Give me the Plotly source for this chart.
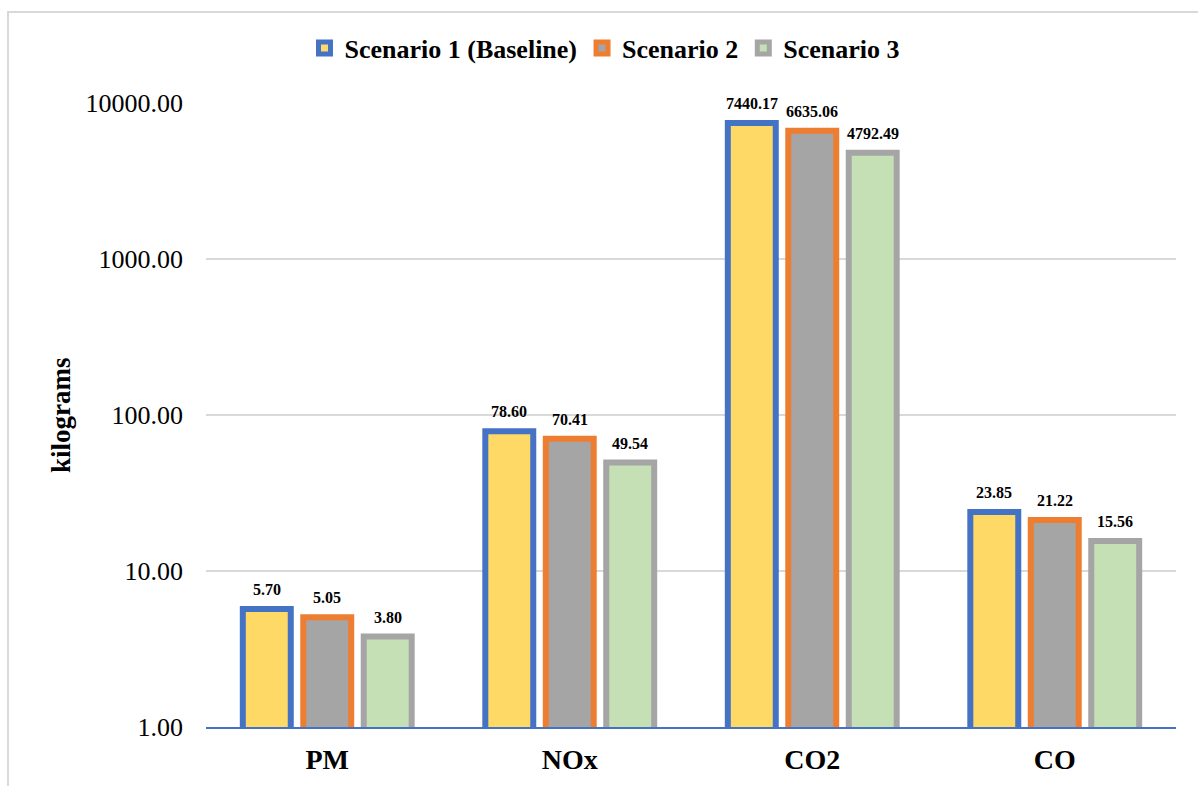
import math
import plotly.graph_objects as go

# Emissions per pollutant for each scenario (kilograms)
pollutants = ["PM", "NOx", "CO2", "CO"]
scenario_names = ["Scenario 1 (Baseline)", "Scenario 2", "Scenario 3"]
scenario_1 = [5.70, 78.60, 7440.17, 23.85]
scenario_2 = [5.05, 70.41, 6635.06, 21.22]
scenario_3 = [3.80, 49.54, 4792.49, 15.56]

y_tick_values = [1, 10, 100, 1000, 10000]
y_tick_labels = ["1.00", "10.00", "100.00", "1000.00", "10000.00"]

fill_colors = ["#FFD966", "#A5A5A5", "#C5E0B4"]
edge_colors = ["#4472C4", "#ED7D31", "#A5A5A5"]

SERIF = "Liberation Serif, Times New Roman, serif"
W, H = 1198, 786
M_L, M_R, M_T, M_B = 206, 22, 103, 59
PW, PH = W - M_L - M_R, H - M_T - M_B
BARGAP = 0.252
BARGROUPGAP = 0.207


def px_to_paper_x(px):
    return (px - M_L) / PW


def px_to_paper_y(py):
    return (H - M_B - py) / PH


series = [scenario_1, scenario_2, scenario_3]

fig = go.Figure()
for name, values, fc, ec in zip(scenario_names, series, fill_colors, edge_colors):
    fig.add_trace(go.Bar(
        name=name,
        x=pollutants,
        y=values,
        marker=dict(color=fc, line=dict(color=ec, width=6)),
        cliponaxis=False,
    ))

# Value labels above each bar, offset sideways to the bar's slot in its group
slot_px = PW / len(pollutants) * (1 - BARGAP) / len(series)
value_labels = []
for i, values in enumerate(series):
    for cat, v in zip(pollutants, values):
        value_labels.append(dict(
            x=cat, y=math.log10(v), xref="x", yref="y",
            text=f"{v:.2f}", showarrow=False,
            xanchor="center", yanchor="bottom",
            xshift=(i - (len(series) - 1) / 2) * slot_px, yshift=9,
            font=dict(family=SERIF, size=16, color="#000000", weight="bold"),
        ))

fig.update_layout(
    width=W, height=H,
    margin=dict(l=M_L, r=M_R, t=M_T, b=M_B),
    paper_bgcolor="white",
    plot_bgcolor="white",
    barmode="group",
    bargap=BARGAP,
    bargroupgap=BARGROUPGAP,
    font=dict(family=SERIF, color="#000000"),
    legend=dict(
        orientation="h",
        xref="container", x=0.505, xanchor="center",
        yref="container", y=1 - 48 / H, yanchor="middle",
        font=dict(family=SERIF, size=26, color="#000000", weight="bold"),
        itemwidth=30,
        traceorder="normal",
    ),
    xaxis=dict(
        showline=True, linecolor="#4472C4", linewidth=2,
        showgrid=False,
        tickfont=dict(family=SERIF, size=28, color="#000000", weight="bold"),
        ticks="", ticklabelstandoff=6,
    ),
    yaxis=dict(
        type="log", range=[0, 4],
        tickvals=y_tick_values, ticktext=y_tick_labels,
        showgrid=True, gridcolor="#D9D9D9", gridwidth=1.5,
        showline=False, zeroline=False,
        ticks="", ticklabelstandoff=22,
        tickfont=dict(family=SERIF, size=26, color="#000000"),
    ),
    shapes=[dict(
        type="rect", xref="paper", yref="paper", layer="below",
        x0=px_to_paper_x(8), x1=px_to_paper_x(W + 20),
        y0=px_to_paper_y(H + 20), y1=px_to_paper_y(12),
        line=dict(color="#D9D9D9", width=2), fillcolor="rgba(0,0,0,0)",
    )],
    annotations=[dict(
        text="kilograms", textangle=-90, showarrow=False,
        xref="paper", yref="paper",
        x=px_to_paper_x(61), y=0.5, xanchor="center", yanchor="middle",
        font=dict(family=SERIF, size=27, color="#000000", weight="bold"),
    )] + value_labels,
)

fig.write_html("out.html")
